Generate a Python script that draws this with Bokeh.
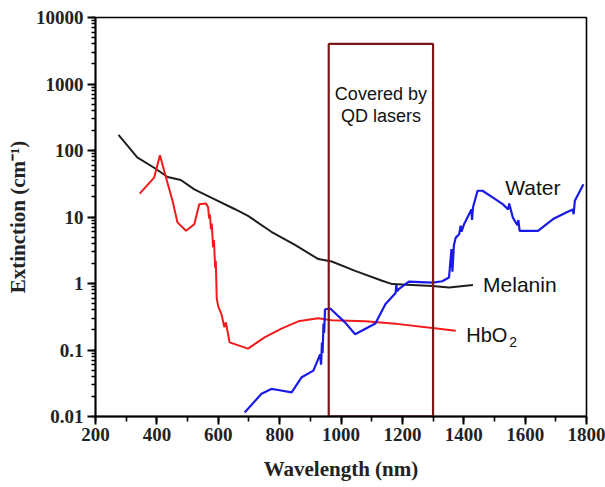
from bokeh.plotting import figure
from bokeh.models import SingleIntervalTicker, LogTicker, Label
from bokeh.embed import file_html
from bokeh.resources import INLINE

# ---- data ----
melanin_x = [275, 336, 391, 435, 478, 522, 577, 653, 697, 773, 850, 926, 970, 1046, 1134, 1167, 1298, 1352, 1430]
melanin_y = [172, 79, 55, 40, 36, 26, 19.6, 13.2, 10.4, 6.0, 3.8, 2.33, 2.14, 1.55, 1.1, 0.98, 0.92, 0.87, 0.95]

hbo2_x = [344, 391, 410, 430, 451, 467, 495, 522, 538, 560, 567, 570, 573, 576, 579, 583, 586, 590, 592, 595,
          600, 610, 620, 625, 637, 697, 751, 806, 861, 926, 970, 1079, 1188, 1298, 1374]
hbo2_y = [22.5, 39, 85, 39, 17.5, 8.3, 6.2, 7.8, 15.6, 16, 14, 9.5, 11, 6.5, 8, 3.5, 4.5, 1.7, 2.2, 0.6,
          0.45, 0.35, 0.22, 0.26, 0.13, 0.105, 0.155, 0.21, 0.27, 0.30, 0.28, 0.27, 0.245, 0.214, 0.195]

water_x = [686, 741, 773, 795, 839, 872, 910, 932, 935, 938, 940, 943, 945, 948, 965, 1013, 1046, 1112, 1145,
           1178, 1180, 1183, 1188, 1221, 1298, 1330, 1352, 1360, 1363, 1368, 1374, 1385, 1390, 1393, 1401, 1425,
           1427, 1430, 1445, 1461, 1494, 1527, 1545, 1548, 1560, 1575, 1578, 1582, 1642, 1691, 1734, 1755, 1758,
           1762, 1790]
water_y = [0.0115, 0.022, 0.026, 0.025, 0.023, 0.039, 0.049, 0.086, 0.06, 0.13, 0.09, 0.25, 0.18, 0.41, 0.42,
           0.26, 0.173, 0.25, 0.49, 0.72, 0.95, 0.76, 0.82, 1.07, 1.03, 1.08, 1.23, 3.3, 1.5, 3.8, 4.9, 5.5, 7.4,
           6.0, 7.8, 13, 9, 13.9, 24.8, 24.8, 19.7, 15.6, 13, 16, 9.8, 7.5, 9, 6.2, 6.2, 9.3, 11.7, 13, 11,
           17.5, 31]

box_left, box_right, box_bottom, box_top = 960, 1300, 0.01, 4000

x_range = (200, 1800)
y_range = (0.01, 10000)

# ---- figure ----
p = figure(width=605, height=487, x_range=x_range, y_range=y_range, y_axis_type="log",
           output_backend="svg", toolbar_location=None,
           min_border_left=95, min_border_right=19, min_border_top=17, min_border_bottom=71)
p.xgrid.visible = False
p.ygrid.visible = False
p.outline_line_color = "black"
p.outline_line_width = 1.6
p.background_fill_color = "white"
p.border_fill_color = "white"

p.xaxis.ticker = SingleIntervalTicker(interval=200, num_minor_ticks=2)
p.yaxis.ticker = LogTicker(num_minor_ticks=10)

serif = "Liberation Serif"
for ax in (p.xaxis[0], p.yaxis[0]):
    ax.axis_line_width = 1.8
    ax.axis_line_color = "black"
    ax.major_tick_line_color = "black"
    ax.minor_tick_line_color = "black"
    ax.major_tick_line_width = 2
    ax.minor_tick_line_width = 1.6
    ax.major_tick_out = 8
    ax.major_tick_in = 0
    ax.minor_tick_out = 5
    ax.minor_tick_in = 0
    ax.major_label_text_font = serif
    ax.major_label_text_font_style = "bold"
    ax.major_label_text_font_size = "19px"
    ax.major_label_text_color = "#222222"
    ax.axis_label_text_font = serif
    ax.axis_label_text_font_style = "bold"
    ax.axis_label_text_font_size = "21px"
    ax.axis_label_text_color = "#222222"

p.yaxis[0].minor_tick_out = 4
p.xaxis.axis_label = "Wavelength (nm)"
p.yaxis.axis_label = "Extinction (cm\u207b\u00b9)"
p.xaxis.major_label_standoff = 3
p.yaxis.major_label_standoff = 4
p.xaxis.axis_label_standoff = 13
p.yaxis.axis_label_standoff = 3
p.yaxis.major_label_overrides = {0.01: "0.01", 0.1: "0.1", 1: "1", 10: "10", 100: "100",
                                 1000: "1000", 10000: "10000"}

# ---- curves ----
p.line(melanin_x, melanin_y, line_color="#1e1e1e", line_width=2)
p.line(hbo2_x, hbo2_y, line_color="#f21a1a", line_width=2)
p.line(water_x, water_y, line_color="#1a1ae8", line_width=2.2)

# ---- QD laser box ----
p.quad(left=[box_left], right=[box_right], bottom=[box_bottom], top=[box_top],
       fill_alpha=0, line_color="#7a1818", line_width=2.2)

# ---- annotations ----
sans = "Liberation Sans"
def lab(x, y, t, size="20px", align="left", yoff=0, xoff=0):
    p.add_layout(Label(x=x, y=y, text=t, text_font=sans, text_font_size=size,
                       text_align=align, text_baseline="middle", text_color="#111111",
                       x_offset=xoff, y_offset=yoff))

lab(1130, 700, "Covered by", size="18px", align="center")
lab(1130, 330, "QD lasers", size="18px", align="center")
lab(1535, 28, "Water", size="21px")
lab(1463, 0.95, "Melanin", size="21px")
lab(1408, 0.168, "HbO", size="20px")
lab(1408, 0.168, "2", size="14px", xoff=43, yoff=-7)

open("out.html", "w").write(file_html(p, INLINE))
